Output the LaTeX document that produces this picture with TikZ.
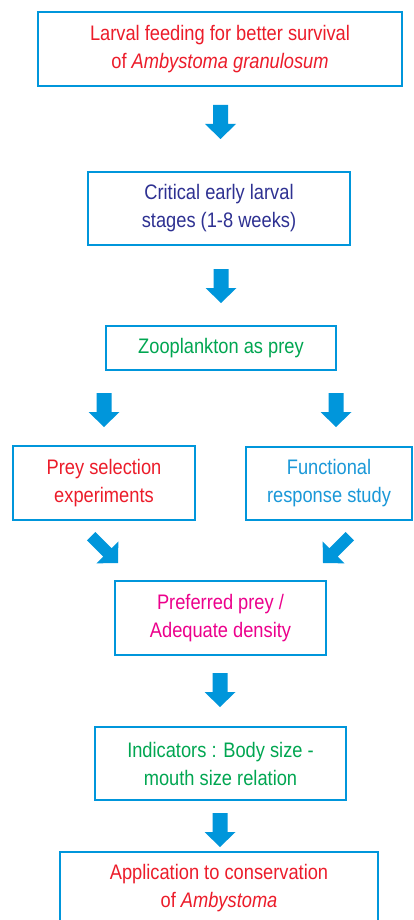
\documentclass[tikz,border=0pt]{standalone}
\usepackage{fontspec}
\setmainfont[FakeStretch=0.87]{Liberation Sans}
\definecolor{boxblue}{HTML}{0096DB}
\definecolor{txtred}{HTML}{EC1C2A}
\definecolor{txtindigo}{HTML}{2E3192}
\definecolor{txtgreen}{HTML}{00A651}
\definecolor{txtcyan}{HTML}{1A98D8}
\definecolor{txtmagenta}{HTML}{EC008C}
\tikzset{
  flowbox/.style={draw=boxblue, line width=2.5pt, rectangle, inner sep=0pt,
    align=center, font=\fontsize{21}{28}\selectfont},
  downarrow/.pic={\fill[boxblue] (0,0) -- (15.5,-15) -- (7.5,-15) -- (7.5,-34)
    -- (-7.5,-34) -- (-7.5,-15) -- (-15.5,-15) -- cycle;},
  slantarrow/.pic={\fill[boxblue] (0,0) -- (15.5,-15) -- (6,-15) -- (6,-38)
    -- (-6,-38) -- (-6,-15) -- (-15.5,-15) -- cycle;}
}
\begin{document}
\begin{tikzpicture}[x=1pt, y=-1pt]
\useasboundingbox[fill=white] (0,0) rectangle (414,920);

\node[flowbox, text=txtred, minimum width=364pt, minimum height=74pt] (b1) at (220,49)
  {Larval feeding for better survival\\of \textit{Ambystoma granulosum}};
\node[flowbox, text=txtindigo, minimum width=262pt, minimum height=73pt] (b2) at (219,208.5)
  {Critical early larval\\stages (1-8 weeks)};
\node[flowbox, text=txtgreen, minimum width=230pt, minimum height=44pt] (b3) at (221,348)
  {Zooplankton as prey};
\node[flowbox, text=txtred, minimum width=182pt, minimum height=74pt] (b4l) at (104,483)
  {Prey selection\\experiments};
\node[flowbox, text=txtcyan, minimum width=166pt, minimum height=73pt] (b4r) at (329,483.5)
  {Functional\\response study};
\node[flowbox, text=txtmagenta, minimum width=211pt, minimum height=74pt] (b5) at (220.5,618)
  {Preferred prey /\\Adequate density};
\node[flowbox, text=txtgreen, minimum width=251pt, minimum height=73pt] (b6) at (220.5,763.5)
  {Indicators : Body size -\\mouth size relation};
\node[flowbox, text=txtred, minimum width=318pt, minimum height=72pt] (b7) at (219,888)
  {Application to conservation\\of \textit{Ambystoma}};

% block arrows between the stages
\pic at (220.5,139) {downarrow};
\pic at (221,303) {downarrow};
\pic at (104,427) {downarrow};
\pic at (336,427) {downarrow};
\pic[rotate=45] at (118,563) {slantarrow};
\pic[rotate=-45] at (323,563) {slantarrow};
\pic at (220,707) {downarrow};
\pic at (220,847) {downarrow};
\end{tikzpicture}
\end{document}
